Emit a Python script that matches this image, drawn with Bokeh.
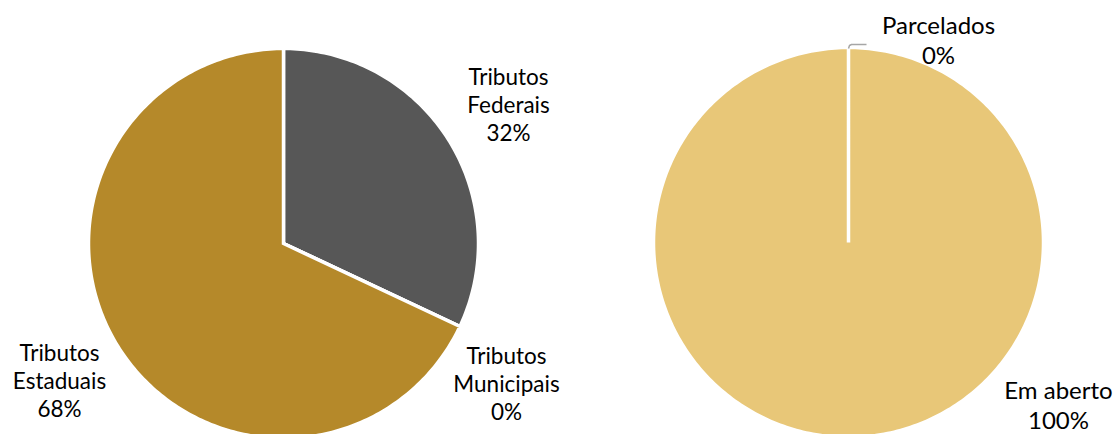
import numpy as np
from bokeh.plotting import figure
from bokeh.models import Range1d, ColumnDataSource
from bokeh.core.properties import value
from bokeh.embed import file_html
from bokeh.resources import INLINE

# ---- data ----
left_names = ["Tributos\nFederais", "Tributos\nMunicipais", "Tributos\nEstaduais"]
left_values = [32, 0, 68]
left_colors = ["#575757", "#A5A5A5", "#B5892A"]

right_names = ["Parcelados", "Em aberto"]
right_values = [0, 100]
right_colors = ["#C9A24A", "#E8C778"]

W, H = 1118, 434
p = figure(width=W, height=H, output_backend="svg", toolbar_location=None,
           x_range=Range1d(0, W), y_range=Range1d(H, 0), min_border=0)
p.axis.visible = False
p.grid.visible = False
p.outline_line_color = None
p.background_fill_color = "white"
p.border_fill_color = "white"

FONT = "Lato"


def pie(cx, cy, r, values, colors):
    vals = np.array(values, dtype=float)
    fr = vals / vals.sum()
    ends = np.cumsum(fr) * 2 * np.pi
    starts = ends - fr * 2 * np.pi
    xs, ys = [], []
    for s, e in zip(starts, ends):
        n = max(2, int((e - s) / (2 * np.pi) * 360))
        th = np.linspace(s, e, n)
        px = [cx] + list(cx + r * np.sin(th)) + [cx]
        py = [cy] + list(cy - r * np.cos(th)) + [cy]
        xs.append(px)
        ys.append(py)
    src = ColumnDataSource(dict(xs=xs, ys=ys, color=colors))
    p.patches("xs", "ys", source=src, fill_color="color", line_color="white",
              line_width=3.5, line_join="miter")
    return starts, ends, fr


ls, le, lf = pie(283, 243, 195, left_values, left_colors)
rs, re_, rf = pie(848, 242, 195, right_values, right_colors)

# labels
left_lbl = [f"{n}\n{round(f*100):.0f}%" for n, f in zip(left_names, lf)]
p.text(x=[508, 506, 59], y=[104, 383, 380], text=left_lbl,
       text_font=value(FONT), text_font_size="22.5px", text_color="#000000",
       text_align="center", text_baseline="middle", text_line_height=1.04)

right_lbl = [f"{n}\n{round(f*100):.0f}%" for n, f in zip(right_names, rf)]
p.text(x=[938, 1058], y=[39, 404], text=right_lbl,
       text_font=value(FONT), text_font_size="24px", text_color="#000000",
       text_align="center", text_baseline="middle", text_line_height=1.03)

# leader line for Parcelados
p.line(x=[848, 849, 851, 866], y=[48, 45, 44, 44], line_color="#A6A6A6", line_width=1.5)

open("out.html", "w").write(file_html(p, INLINE))
